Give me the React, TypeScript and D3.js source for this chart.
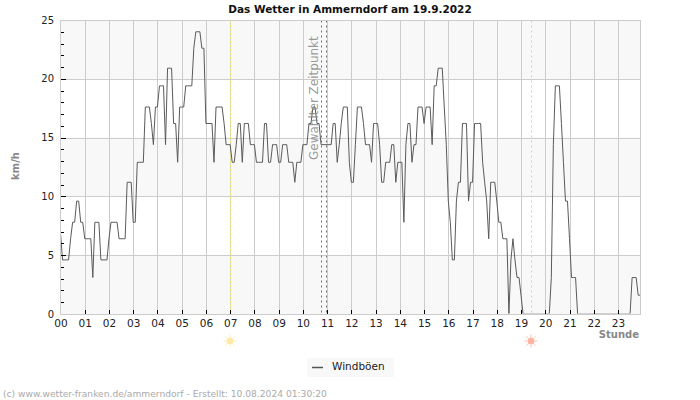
import * as d3 from "d3";

// Windböen in km/h, 5-Minuten-Werte, eine Zeile pro Stunde
const gusts: number[] = [
  6.9, 4.6, 4.6, 4.6, 4.6, 6.4, 7.8, 7.8, 9.6, 9.6, 7.8, 7.8,
  6.4, 6.4, 6.4, 6.4, 3.1, 7.8, 7.8, 7.8, 4.6, 4.6, 4.6, 4.6,
  6.4, 7.8, 7.8, 7.8, 7.8, 6.4, 6.4, 6.4, 6.4, 11.2, 11.2, 11.2,
  7.8, 7.8, 12.9, 12.9, 12.9, 12.9, 17.6, 17.6, 17.6, 16.2, 14.4, 17.6,
  17.6, 19.4, 19.4, 19.4, 14.4, 20.9, 20.9, 20.9, 16.2, 16.2, 12.9, 17.6,
  17.6, 17.6, 19.4, 19.4, 19.4, 19.4, 22.6, 24, 24, 24, 22.6, 22.6,
  16.2, 16.2, 16.2, 16.2, 12.9, 17.6, 17.6, 17.6, 17.6, 16.2, 14.4, 14.4,
  14.4, 12.9, 12.9, 14.4, 16.2, 16.2, 12.9, 16.2, 16.2, 16.2, 14.4, 14.4,
  14.4, 12.9, 12.9, 12.9, 12.9, 16.2, 16.2, 12.9, 12.9, 14.4, 14.4, 14.4,
  12.9, 12.9, 14.4, 14.4, 14.4, 12.9, 12.9, 12.9, 11.2, 12.9, 12.9, 12.9,
  14.4, 14.4, 14.4, 16.2, 16.2, 17.6, 17.6, 16.2, 16.2, 14.4, 14.4, 14.4,
  14.4, 14.4, 14.4, 16.2, 16.2, 12.9, 14.4, 16.2, 17.6, 17.6, 17.6, 12.9,
  11.2, 11.2, 14.4, 17.6, 17.6, 17.6, 16.2, 14.4, 14.4, 14.4, 12.9, 16.2,
  16.2, 16.2, 14.4, 11.2, 11.2, 12.9, 12.9, 12.9, 14.4, 14.4, 11.2, 12.9,
  12.9, 12.9, 7.8, 14.4, 16.2, 16.2, 12.9, 14.4, 14.4, 17.6, 17.6, 17.6,
  16.2, 17.6, 17.6, 17.6, 14.4, 19.4, 19.4, 20.9, 20.9, 20.9, 17.6, 14.4,
  9.6, 7.8, 4.6, 4.6, 9.6, 11.2, 11.2, 16.2, 16.2, 16.2, 9.6, 11.2,
  11.2, 16.2, 16.2, 16.2, 16.2, 12.9, 11.2, 9.6, 6.4, 11.2, 11.2, 11.2,
  9.6, 7.8, 7.8, 6.4, 6.4, 6.4, 0, 4.6, 6.4, 4.6, 3.1, 3.1,
  1.6, 0, 0, 0, 0, 0, 0, 0, 0, 0, 0, 0,
  0, 0, 0, 3.1, 14.4, 19.4, 19.4, 19.4, 16.2, 12.9, 9.6, 9.6,
  6.4, 3.1, 3.1, 3.1, 0, 0, 0, 0, 0, 0, 0, 0,
  0, 0, 0, 0, 0, 0, 0, 0, 0, 0, 0, 0,
  0, 0, 0, 0, 0, 0, 0, 3.1, 3.1, 3.1, 1.6, 1.6,
];

const hourLabels = d3.range(24).map((h) => String(h).padStart(2, "0"));
const speedLabels = [0, 5, 10, 15, 20, 25];
const bands = [[0, 5], [10, 15], [20, 25]];
const sunrise = 6.98;
const sunset = 19.42;
const chosenTimes = [10.76, 10.97];

const fontFamily = '"DejaVu Sans"';

const Sun = ({ cx, cy, color }: { cx: number; cy: number; color: string }) => (
  <g>
    {d3.range(8).map((i) => {
      const a = (i * Math.PI) / 4;
      return (
        <line
          key={i}
          x1={cx + 4 * Math.cos(a)}
          y1={cy + 4 * Math.sin(a)}
          x2={cx + 6.5 * Math.cos(a)}
          y2={cy + 6.5 * Math.sin(a)}
          stroke={color}
          strokeOpacity={0.8}
        />
      );
    })}
    <circle cx={cx} cy={cy} r={3.5} fill={color} />
  </g>
);

export default function App() {
  const width = 700;
  const height = 400;
  const left = 60.5;
  const right = 640.5;
  const top = 20.5;
  const bottom = 314.5;

  const x = d3.scaleLinear().domain([0, 287 / 12]).range([left, 640.2]);
  const y = d3.scaleLinear().domain([0, 25]).range([314, 20]);
  const px = (h: number) => Math.round(x(h)) + 0.5;
  const py = (v: number) => Math.round(y(v)) + 0.5;

  const line = d3
    .line<number>()
    .x((_, i) => x(i / 12))
    .y((d) => y(d));

  const minorTicks = d3.range(1, 25).filter((v) => v % 5 !== 0);

  return (
    <svg
      width={width}
      height={height}
      style={{ position: "absolute", left: 0, top: 0, background: "white" }}
      fontFamily={fontFamily}
    >
      <defs>
        <clipPath id="plot">
          <rect x={left} y={20} width={right - left} height={293.4} />
        </clipPath>
      </defs>

      {bands.map(([a, b]) => (
        <rect key={a} x={left} y={y(b)} width={right - left} height={y(a) - y(b)} fill="#f8f8f8" />
      ))}

      {speedLabels.slice(1, -1).map((v) => (
        <line key={v} x1={left} x2={right} y1={py(v)} y2={py(v)} stroke="#cccccc" />
      ))}
      {hourLabels.slice(1).map((_, i) => (
        <line key={i} x1={px(i + 1)} x2={px(i + 1)} y1={top} y2={bottom} stroke="#cccccc" />
      ))}

      <line x1={px(sunrise)} x2={px(sunrise)} y1={top} y2={bottom} stroke="#f5ee60" strokeDasharray="2 2" />
      <line x1={px(sunset)} x2={px(sunset)} y1={top} y2={bottom} stroke="#f5c98a" strokeDasharray="2 3" />

      <path
        d={line(gusts) ?? ""}
        fill="none"
        stroke="#5a5a5a"
        strokeWidth={1}
        clipPath="url(#plot)"
      />

      {chosenTimes.map((t) => (
        <line key={t} x1={px(t)} x2={px(t)} y1={top} y2={bottom} stroke="#707070" strokeDasharray="2 3" />
      ))}
      <text
        transform={`translate(318,160) rotate(-90)`}
        fontSize={12}
        fill="#888888"
        fillOpacity={0.85}
      >
        Gewählter Zeitpunkt
      </text>

      <rect x={left} y={top} width={right - left} height={bottom - top} fill="none" stroke="#cccccc" />

      {minorTicks.map((v) => (
        <line key={v} x1={61} x2={64} y1={py(v)} y2={py(v)} stroke="#000000" />
      ))}
      {speedLabels.slice(1, -1).map((v) => (
        <line key={v} x1={61} x2={66} y1={py(v)} y2={py(v)} stroke="#000000" />
      ))}
      {hourLabels.slice(1).map((_, i) => (
        <line key={i} x1={px(i + 1)} x2={px(i + 1)} y1={310} y2={314} stroke="#000000" />
      ))}

      {speedLabels.map((v) => (
        <text key={v} x={54} y={y(v) + 3.5} textAnchor="end" fontSize={10} fill="#222222">
          {v}
        </text>
      ))}
      {hourLabels.map((h, i) => (
        <text key={h} x={x(i) + 0.5} y={327} textAnchor="middle" fontSize={10.5} fill="#222222">
          {h}
        </text>
      ))}

      <text x={350} y={13} textAnchor="middle" fontSize={10.5} fontWeight="bold" fill="#111111">
        Das Wetter in Ammerndorf am 19.9.2022
      </text>
      <text
        transform="translate(19,166) rotate(-90)"
        textAnchor="middle"
        fontSize={10}
        fontWeight="bold"
        fill="#888888"
      >
        km/h
      </text>
      <text x={639} y={338} textAnchor="end" fontSize={10} fontWeight="bold" fill="#888888">
        Stunde
      </text>

      <Sun cx={230} cy={341} color="#ffe9a8" />
      <Sun cx={531} cy={341} color="#ffb3a0" />

      <rect x={307} y={358} width={87} height={19} fill="#f8f8f8" />
      <line x1={312} x2={323} y1={367.5} y2={367.5} stroke="#555555" strokeWidth={1.5} />
      <text x={332} y={370} fontSize={10.5} fill="#222222">
        Windböen
      </text>

      <text x={3} y={397} fontSize={9.15} fill="#aaaaaa">
        (c) www.wetter-franken.de/ammerndorf - Erstellt: 10.08.2024 01:30:20
      </text>
    </svg>
  );
}
